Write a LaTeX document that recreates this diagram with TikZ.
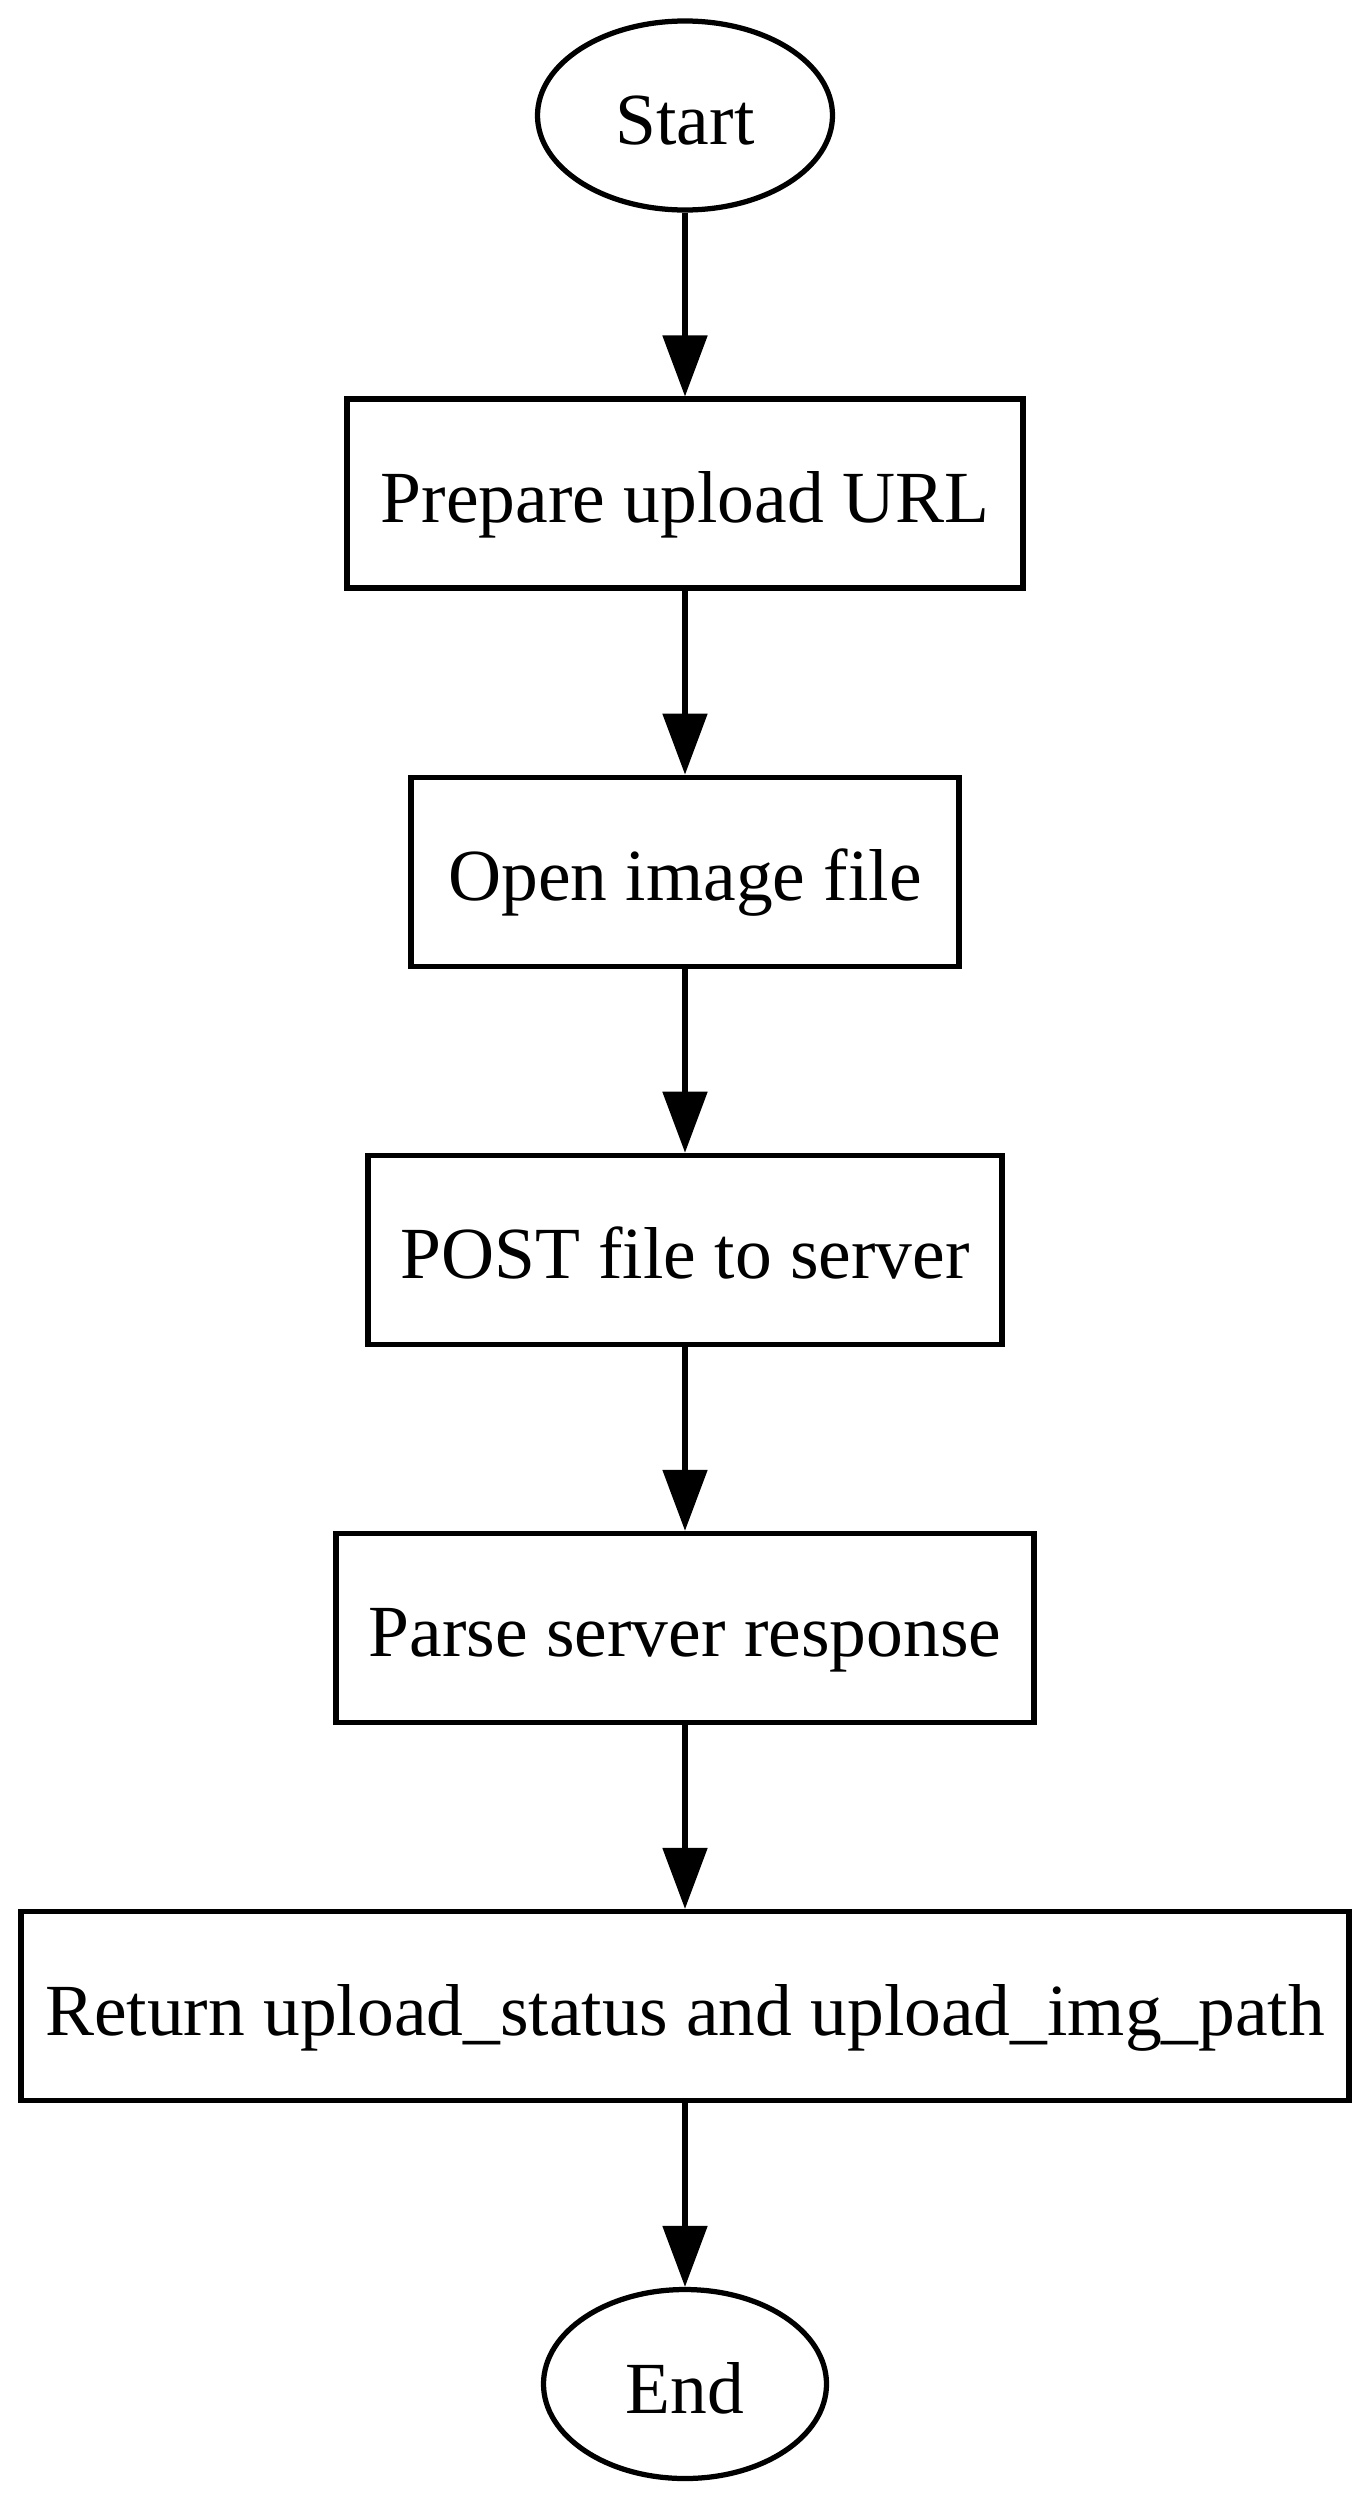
\documentclass[tikz,border=0pt]{standalone}
\usepackage{fontspec}
\setmainfont{Liberation Serif}
\usetikzlibrary{arrows.meta,shapes.geometric}
\begin{document}
\begin{tikzpicture}[x=1pt,y=1pt,
  base/.style={draw=black, line width=5.25pt, inner sep=0pt,
    minimum height=189pt, text height=58pt, text depth=0pt,
    font=\fontsize{73.5pt}{88pt}\selectfont},
  procbox/.style={base, rectangle},
  term/.style={base, ellipse},
  flow/.style={draw=black, line width=5.25pt,
    -{Triangle[length=61pt,width=44pt]}}]
\fill[white] (0,0) rectangle (1370,-2500);
\useasboundingbox (0,0) rectangle (1370,-2500);
\node[term, minimum width=295pt] (start) at (685,-115.5) {Start};
\node[procbox, minimum width=676pt] (prep) at (685,-493.6) {Prepare upload URL};
\node[procbox, minimum width=548pt] (open) at (685,-871.7) {Open image file};
\node[procbox, minimum width=634pt] (post) at (685,-1249.8) {POST file to server};
\node[procbox, minimum width=698pt] (parse) at (685,-1627.9) {Parse server response};
\node[procbox, minimum width=1328pt] (ret) at (685,-2006) {Return upload\_status and upload\_img\_path};
\node[term, minimum width=283pt] (end) at (685,-2384) {End};
\draw[flow] (start) -- (prep);
\draw[flow] (prep) -- (open);
\draw[flow] (open) -- (post);
\draw[flow] (post) -- (parse);
\draw[flow] (parse) -- (ret);
\draw[flow] (ret) -- (end);
\end{tikzpicture}
\end{document}
